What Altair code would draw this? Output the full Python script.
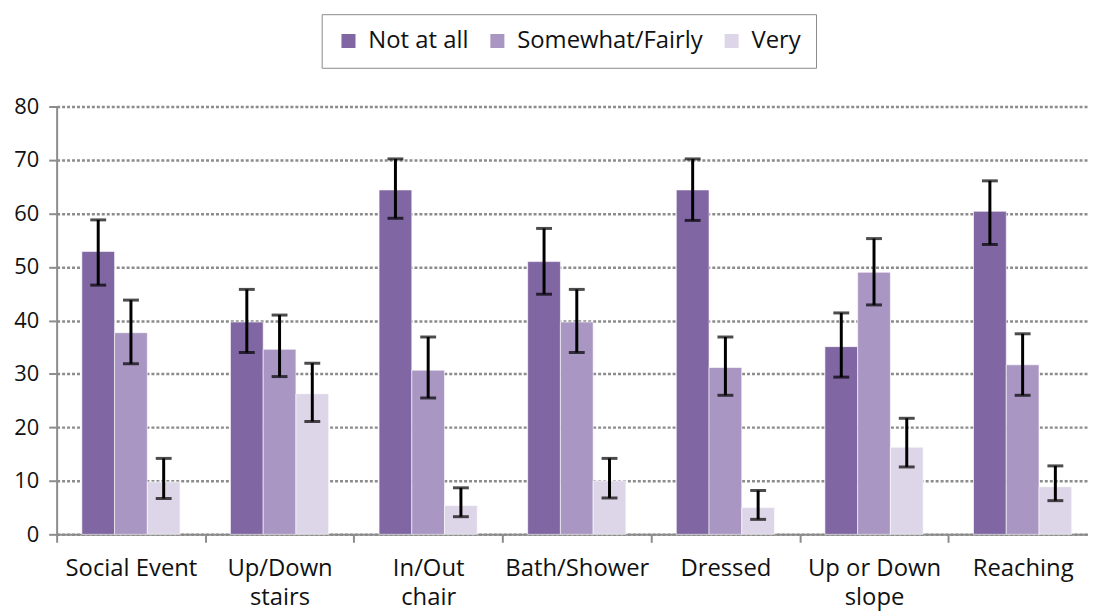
import altair as alt
import pandas as pd

categories = ["Social Event", "Up/Down|stairs", "In/Out|chair", "Bath/Shower",
              "Dressed", "Up or Down|slope", "Reaching"]
series = ["Not at all", "Somewhat/Fairly", "Very"]
colors = ["#8066a2", "#a996c2", "#ddd6e8"]

not_at_all = [52.9, 39.7, 64.4, 51.0, 64.4, 35.1, 60.4]
not_at_all_lo = [46.6, 34.0, 59.1, 44.9, 58.7, 29.4, 54.2]
not_at_all_hi = [58.8, 45.8, 70.2, 57.2, 70.2, 41.4, 66.1]
somewhat = [37.7, 34.6, 30.7, 39.7, 31.2, 49.0, 31.7]
somewhat_lo = [31.9, 29.5, 25.5, 34.0, 26.0, 42.9, 26.0]
somewhat_hi = [43.8, 41.0, 36.9, 45.8, 36.9, 55.3, 37.5]
very = [9.8, 26.3, 5.4, 10.0, 5.0, 16.3, 8.9]
very_lo = [6.7, 21.1, 3.3, 6.8, 2.8, 12.6, 6.3]
very_hi = [14.2, 32.0, 8.7, 14.2, 8.2, 21.7, 12.8]

rows = []
for s, vals, los, his in [
    (series[0], not_at_all, not_at_all_lo, not_at_all_hi),
    (series[1], somewhat, somewhat_lo, somewhat_hi),
    (series[2], very, very_lo, very_hi),
]:
    for c, v, lo, hi in zip(categories, vals, los, his):
        rows.append({"category": c, "series": s, "value": v, "lo": lo, "hi": hi})
df = pd.DataFrame(rows)

FONT = "Open Sans"
GRAY = "#8c8c8c"
TEXT = "#111111"

x = alt.X(
    "category:N",
    sort=categories,
    scale=alt.Scale(range=[0, 1048], paddingInner=0, paddingOuter=0),
    axis=alt.Axis(
        title=None, labelAngle=0, tickBand="extent",
        labelExpr="split(datum.label, '|')",
        labelFontSize=24, labelFont=FONT, labelColor=TEXT,
        labelPadding=14, labelLineHeight=30, labelBaseline="top",
        domainColor=GRAY, domainWidth=2, tickColor=GRAY, tickWidth=2, tickSize=8,
        grid=False,
    ),
)
xoff = alt.XOffset("series:N", sort=series,
                   scale=alt.Scale(paddingInner=0, paddingOuter=0.77))
y = alt.Y(
    "value:Q",
    scale=alt.Scale(domain=[0, 80], nice=False),
    axis=alt.Axis(
        title=None, values=list(range(0, 81, 10)),
        labelFontSize=22, labelFont=FONT, labelColor=TEXT, labelPadding=10,
        domainColor=GRAY, domainWidth=2, tickColor=GRAY, tickWidth=2, tickSize=8,
        grid=True, gridColor=GRAY, gridDash=[3, 2], gridWidth=2.5,
    ),
)

base = alt.Chart(df)
bars = base.mark_bar(stroke="white", strokeWidth=1, strokeOpacity=0.6).encode(
    x=x, xOffset=xoff, y=y,
    color=alt.Color(
        "series:N", sort=series,
        scale=alt.Scale(domain=series, range=colors),
        legend=alt.Legend(
            title=None, orient="none", legendX=267, legendY=-93,
            direction="horizontal", symbolType="square", symbolSize=200,
            symbolStrokeWidth=0, labelFontSize=24, labelFont=FONT,
            labelColor=TEXT, labelLimit=400, padding=15, columnPadding=17,
            labelOffset=8, strokeColor="#8a8a8a", fillColor="white",
        ),
    ),
)
rules = base.mark_rule(color="black", strokeWidth=3).encode(
    x=x, xOffset=xoff, y=alt.Y("lo:Q"), y2="hi:Q"
)
caps_lo = base.mark_tick(color="black", thickness=3, size=16).encode(
    x=x, xOffset=xoff, y=alt.Y("lo:Q")
)
caps_hi = base.mark_tick(color="black", thickness=3, size=16).encode(
    x=x, xOffset=xoff, y=alt.Y("hi:Q")
)

chart = alt.layer(bars, rules, caps_lo, caps_hi).properties(
    width=1039, height=431,
    autosize=alt.AutoSizeParams(type="none"),
    padding={"left": 49, "top": 97, "right": 0, "bottom": 76},
).configure_view(stroke=None)

chart.save("out.html", embed_options={"renderer": "svg", "actions": False})
